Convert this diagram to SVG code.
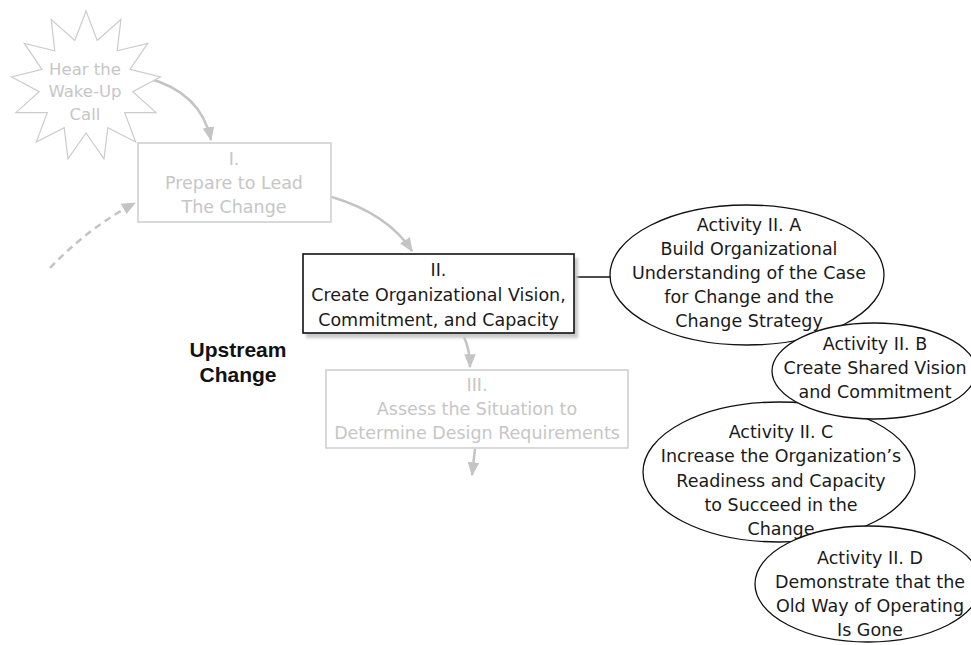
<svg xmlns="http://www.w3.org/2000/svg" width="971" height="645" viewBox="0 0 971 645">
  <style>
    .faint-text { font-family: "DejaVu Sans", "Liberation Sans", sans-serif; font-size: 17.5px; fill: #c6c6c6; text-anchor: middle; }
    .dark-text { font-family: "DejaVu Sans", "Liberation Sans", sans-serif; font-size: 17.5px; fill: #1a1a1a; text-anchor: middle; }
    .faint-box { fill: #ffffff; stroke: #cdcdcd; stroke-width: 1.5; }
    .activity { fill: #ffffff; stroke: #111111; stroke-width: 1.3; }
    .faint-arrow { fill: none; stroke: #c4c4c4; stroke-width: 2.5; }
    .label { font-family: "Liberation Sans", Arial, sans-serif; font-size: 21px; font-weight: bold; fill: #111111; text-anchor: middle; }
  </style>
  <defs>
    <marker id="head" viewBox="0 0 12 10" refX="11" refY="5" markerWidth="5.6" markerHeight="4.8" orient="auto" markerUnits="strokeWidth">
      <path d="M0,0 L12,5 L0,10 Z" fill="#c4c4c4"/>
    </marker>
    <filter id="soft" x="-10%" y="-10%" width="120%" height="130%">
      <feGaussianBlur stdDeviation="1.8"/>
    </filter>
  </defs>

  <rect width="971" height="645" fill="#ffffff"/>

  <!-- connectors -->
  <g id="connectors">
    <path class="faint-arrow" d="M147,78 Q201,92 211,140" marker-end="url(#head)"/>
    <path class="faint-arrow" d="M332,197 Q388,214 412,251" marker-end="url(#head)"/>
    <path class="faint-arrow" d="M464,337 Q470,350 470,367" marker-end="url(#head)"/>
    <path class="faint-arrow" d="M475,449 L472,475" marker-end="url(#head)"/>
    <path class="faint-arrow" d="M50,268 Q88,228 135,203" stroke-dasharray="7,5" stroke-width="3" marker-end="url(#head)"/>
    <line x1="574" y1="277" x2="611" y2="277" stroke="#111111" stroke-width="1.5"/>
  </g>

  <!-- wake-up call starburst -->
  <g id="wake-up">
    <polygon points="86,11 97.2,40.4 120.9,19.6 117.2,50.8 147.7,43.4 130,69.3 160.5,77 132.7,91.7 156.1,112.6 124.7,112.7 135.7,142.1 107.8,127.6 104,158.8 86,133 68,158.8 64.2,127.6 36.3,142.1 47.3,112.7 15.9,112.6 39.3,91.7 11.5,77 42,69.3 24.3,43.4 54.8,50.8 51.2,19.6 74.8,40.4" fill="#ffffff" stroke="#cccccc" stroke-width="1.2"/>
    <text class="faint-text" style="font-size:16.5px" x="85" y="75">Hear the</text>
    <text class="faint-text" style="font-size:16.5px" x="85" y="97">Wake-Up</text>
    <text class="faint-text" style="font-size:16.5px" x="85" y="120">Call</text>
  </g>

  <!-- phase I -->
  <g id="phase-1">
    <rect class="faint-box" x="138" y="143" width="193" height="79"/>
    <text class="faint-text" x="234" y="165">I.</text>
    <text class="faint-text" x="234" y="189">Prepare to Lead</text>
    <text class="faint-text" x="234" y="213">The Change</text>
  </g>

  <!-- phase II -->
  <g id="phase-2">
    <rect x="306" y="258" width="272" height="80" fill="#c8c8c8" filter="url(#soft)"/>
    <rect x="303" y="254" width="271" height="79" fill="#ffffff" stroke="#111111" stroke-width="1.6"/>
    <text class="dark-text" x="438.5" y="276">II.</text>
    <text class="dark-text" x="438.5" y="301">Create Organizational Vision,</text>
    <text class="dark-text" x="438.5" y="326">Commitment, and Capacity</text>
  </g>

  <!-- phase III -->
  <g id="phase-3">
    <rect class="faint-box" x="326" y="370" width="302" height="78"/>
    <text class="faint-text" x="477" y="391">III.</text>
    <text class="faint-text" x="477" y="415">Assess the Situation to</text>
    <text class="faint-text" x="477" y="439">Determine Design Requirements</text>
  </g>

  <!-- side label -->
  <g id="upstream-label">
    <text class="label" x="238" y="357">Upstream</text>
    <text class="label" x="238" y="382">Change</text>
  </g>

  <!-- activities -->
  <g id="activity-a">
    <ellipse class="activity" cx="747" cy="275" rx="137" ry="70"/>
    <text class="dark-text" x="749" y="231">Activity II. A</text>
    <text class="dark-text" x="749" y="255">Build Organizational</text>
    <text class="dark-text" x="749" y="279">Understanding of the Case</text>
    <text class="dark-text" x="749" y="303">for Change and the</text>
    <text class="dark-text" x="749" y="327">Change Strategy</text>
  </g>

  <g id="activity-c">
    <ellipse class="activity" cx="779" cy="472" rx="136" ry="70"/>
    <text class="dark-text" x="781" y="438">Activity II. C</text>
    <text class="dark-text" x="781" y="462">Increase the Organization’s</text>
    <text class="dark-text" x="781" y="487">Readiness and Capacity</text>
    <text class="dark-text" x="781" y="511">to Succeed in the</text>
    <text class="dark-text" x="781" y="535">Change</text>
  </g>

  <g id="activity-b">
    <ellipse class="activity" cx="874" cy="371" rx="102" ry="48"/>
    <text class="dark-text" x="875" y="350">Activity II. B</text>
    <text class="dark-text" x="875" y="374">Create Shared Vision</text>
    <text class="dark-text" x="875" y="398">and Commitment</text>
  </g>

  <g id="activity-d">
    <ellipse class="activity" cx="868" cy="584" rx="113" ry="58"/>
    <text class="dark-text" x="870" y="564">Activity II. D</text>
    <text class="dark-text" x="870" y="588">Demonstrate that the</text>
    <text class="dark-text" x="870" y="612">Old Way of Operating</text>
    <text class="dark-text" x="870" y="636">Is Gone</text>
  </g>
</svg>
